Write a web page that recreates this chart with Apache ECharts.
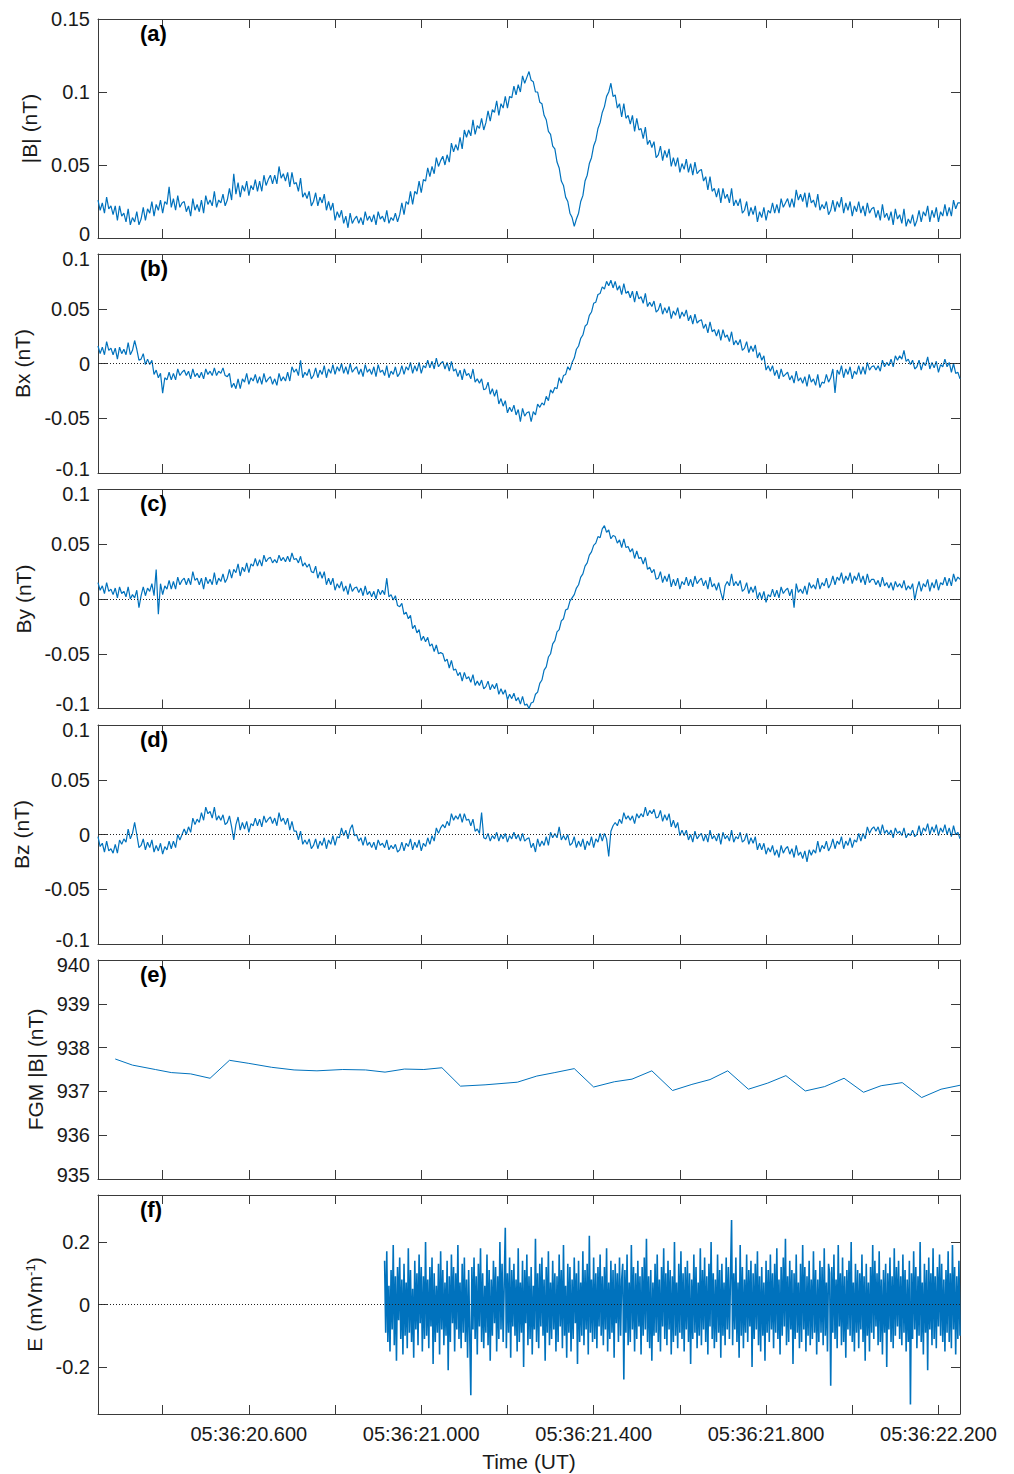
<!DOCTYPE html>
<html>
<head>
<meta charset="utf-8">
<script src="https://cdn.jsdelivr.net/npm/echarts@6.0.0/dist/echarts.min.js"></script>
<style>
html,body{margin:0;padding:0;background:#fff;}
#chart{width:1014px;height:1474px;}
</style>
</head>
<body>
<div id="chart"></div>
<script>
// ---------------- DATA (time in seconds after 05:36:20.000 UT) ----------------
const timeTickValues = [0.4, 0.6, 0.8, 1.0, 1.2, 1.4, 1.6, 1.8, 2.0, 2.2];
const timeLabelValues = [0.6, 1.0, 1.4, 1.8, 2.2];
const timeLabels = ['05:36:20.600', '05:36:21.000', '05:36:21.400', '05:36:21.800', '05:36:22.200'];

const panelLetters = ['(a)', '(b)', '(c)', '(d)', '(e)', '(f)'];
const panelNames = ['|B| (nT)', 'Bx (nT)', 'By (nT)', 'Bz (nT)', 'FGM |B| (nT)', '{b|E (mVm}{s|-1}{b|)}'];

// search-coil field, sampled every 0.005 s from t = 0.25 s (one row = 0.1 s)
const bStart = 0.25, bStep = 0.005;
const absB = [
  0.026,0.019,0.024,0.017,0.028,0.020,0.022,0.016,0.022,0.012,0.022,0.015,0.017,0.011,0.020,0.009,0.014,0.011,0.018,0.009,
  0.013,0.021,0.012,0.020,0.017,0.025,0.015,0.023,0.019,0.026,0.017,0.025,0.023,0.035,0.021,0.027,0.019,0.029,0.021,0.024,
  0.025,0.018,0.022,0.015,0.027,0.019,0.023,0.018,0.026,0.017,0.029,0.023,0.026,0.022,0.032,0.021,0.026,0.024,0.030,0.022,
  0.026,0.034,0.026,0.044,0.030,0.038,0.028,0.036,0.032,0.039,0.029,0.036,0.033,0.040,0.032,0.039,0.032,0.043,0.036,0.040,
  0.043,0.037,0.043,0.037,0.049,0.041,0.044,0.039,0.045,0.035,0.045,0.037,0.038,0.032,0.041,0.028,0.031,0.027,0.032,0.022,
  0.025,0.031,0.022,0.028,0.024,0.030,0.019,0.025,0.019,0.024,0.012,0.018,0.014,0.019,0.010,0.015,0.007,0.017,0.010,0.013,
  0.015,0.010,0.014,0.009,0.018,0.012,0.015,0.011,0.016,0.009,0.018,0.013,0.015,0.011,0.019,0.010,0.014,0.012,0.017,0.011,
  0.016,0.024,0.016,0.025,0.023,0.032,0.023,0.032,0.030,0.039,0.031,0.040,0.039,0.048,0.042,0.049,0.044,0.055,0.049,0.053,
  0.056,0.050,0.057,0.052,0.065,0.059,0.064,0.060,0.069,0.061,0.074,0.069,0.074,0.070,0.081,0.071,0.077,0.075,0.082,0.074,
  0.079,0.087,0.080,0.088,0.086,0.094,0.084,0.092,0.089,0.097,0.089,0.097,0.096,0.104,0.098,0.105,0.100,0.111,0.106,0.110,
  0.114,0.108,0.107,0.100,0.100,0.093,0.092,0.084,0.081,0.073,0.071,0.063,0.061,0.052,0.048,0.039,0.036,0.028,0.025,0.017,
  0.014,0.008,0.013,0.017,0.025,0.029,0.039,0.043,0.051,0.055,0.063,0.067,0.075,0.079,0.086,0.090,0.097,0.100,0.106,0.097,
  0.098,0.089,0.092,0.083,0.092,0.082,0.084,0.078,0.084,0.073,0.082,0.074,0.075,0.068,0.076,0.064,0.067,0.062,0.066,0.055,
  0.057,0.063,0.053,0.060,0.055,0.061,0.049,0.055,0.049,0.055,0.045,0.051,0.047,0.054,0.045,0.051,0.043,0.052,0.044,0.046,
  0.047,0.039,0.042,0.033,0.042,0.032,0.034,0.028,0.034,0.024,0.034,0.027,0.030,0.024,0.034,0.022,0.026,0.022,0.027,0.017,
  0.019,0.025,0.015,0.021,0.016,0.022,0.011,0.018,0.014,0.021,0.012,0.019,0.017,0.024,0.017,0.023,0.017,0.027,0.021,0.024,
  0.027,0.021,0.027,0.021,0.033,0.026,0.030,0.025,0.031,0.021,0.031,0.024,0.026,0.021,0.030,0.019,0.023,0.020,0.025,0.016,
  0.019,0.026,0.018,0.025,0.021,0.028,0.017,0.024,0.019,0.025,0.015,0.022,0.018,0.025,0.017,0.022,0.015,0.024,0.017,0.020,
  0.021,0.014,0.019,0.012,0.023,0.014,0.017,0.012,0.018,0.009,0.020,0.013,0.016,0.010,0.020,0.008,0.013,0.010,0.016,0.008,
  0.012,0.019,0.011,0.018,0.015,0.022,0.011,0.019,0.014,0.021,0.011,0.018,0.015,0.023,0.015,0.021,0.015,0.026,0.020,0.024,
  0.024
];
const bx = [
  0.016,0.009,0.015,0.008,0.020,0.012,0.014,0.008,0.014,0.004,0.015,0.009,0.013,0.008,0.019,0.008,0.012,0.021,0.013,0.003,
  0.004,0.009,-0.001,0.004,-0.001,0.003,-0.010,-0.006,-0.013,-0.009,-0.027,-0.013,-0.015,-0.008,-0.015,-0.009,-0.015,-0.005,-0.011,-0.008,
  -0.006,-0.011,-0.007,-0.014,-0.005,-0.012,-0.009,-0.013,-0.008,-0.014,-0.005,-0.010,-0.007,-0.011,-0.004,-0.011,-0.007,-0.009,-0.004,-0.011,
  -0.012,-0.009,-0.022,-0.018,-0.023,-0.014,-0.023,-0.014,-0.017,-0.009,-0.019,-0.013,-0.016,-0.010,-0.018,-0.012,-0.019,-0.009,-0.017,-0.014,
  -0.012,-0.019,-0.014,-0.020,-0.009,-0.016,-0.012,-0.016,-0.008,-0.016,-0.003,-0.008,-0.005,-0.011,0.003,-0.013,-0.008,-0.011,-0.005,-0.014,
  -0.011,-0.004,-0.013,-0.006,-0.010,-0.002,-0.013,-0.005,-0.009,-0.001,-0.010,-0.003,-0.007,0.000,-0.009,-0.003,-0.010,0.000,-0.008,-0.005,
  -0.003,-0.010,-0.005,-0.012,-0.001,-0.008,-0.005,-0.010,-0.003,-0.012,-0.001,-0.008,-0.006,-0.011,-0.002,-0.013,-0.007,-0.010,-0.003,-0.012,
  -0.009,-0.002,-0.010,-0.003,-0.006,0.001,-0.009,-0.002,-0.007,0.001,-0.009,-0.002,-0.004,0.003,-0.004,0.002,-0.005,0.005,-0.003,0.000,
  0.002,-0.005,0.001,-0.007,0.002,-0.007,-0.005,-0.012,-0.006,-0.015,-0.005,-0.011,-0.009,-0.014,-0.005,-0.017,-0.014,-0.018,-0.014,-0.024,
  -0.023,-0.017,-0.028,-0.023,-0.030,-0.024,-0.037,-0.032,-0.039,-0.034,-0.045,-0.040,-0.044,-0.038,-0.047,-0.042,-0.053,-0.041,-0.048,-0.045,
  -0.044,-0.053,-0.044,-0.047,-0.037,-0.040,-0.036,-0.038,-0.030,-0.034,-0.024,-0.027,-0.022,-0.023,-0.013,-0.018,-0.011,-0.010,-0.003,-0.006,
  0.001,0.005,0.013,0.016,0.023,0.026,0.034,0.036,0.044,0.047,0.055,0.056,0.063,0.064,0.070,0.068,0.075,0.071,0.076,0.069,
  0.075,0.067,0.071,0.063,0.073,0.064,0.066,0.060,0.066,0.056,0.066,0.059,0.061,0.055,0.064,0.052,0.056,0.052,0.057,0.047,
  0.049,0.055,0.045,0.051,0.046,0.052,0.041,0.048,0.044,0.051,0.041,0.047,0.043,0.049,0.039,0.044,0.036,0.045,0.037,0.039,
  0.040,0.032,0.036,0.028,0.038,0.029,0.031,0.025,0.031,0.021,0.031,0.024,0.026,0.020,0.029,0.017,0.021,0.017,0.022,0.012,
  0.014,0.020,0.010,0.016,0.011,0.017,0.005,0.010,0.003,0.007,-0.006,-0.002,-0.007,-0.002,-0.011,-0.006,-0.014,-0.005,-0.012,-0.010,
  -0.008,-0.015,-0.011,-0.018,-0.007,-0.016,-0.013,-0.018,-0.012,-0.021,-0.010,-0.017,-0.014,-0.020,-0.010,-0.022,-0.017,-0.018,-0.010,-0.017,
  -0.013,-0.005,-0.027,-0.006,-0.010,-0.002,-0.013,-0.005,-0.010,-0.003,-0.014,-0.007,-0.010,-0.002,-0.010,-0.003,-0.010,0.001,-0.006,-0.003,
  -0.002,-0.006,-0.002,-0.007,0.003,-0.003,0.001,-0.002,0.004,-0.003,0.007,0.003,0.007,0.004,0.012,0.002,0.004,-0.001,0.003,-0.005,
  -0.003,0.003,-0.006,0.001,-0.002,0.006,-0.005,0.001,-0.004,0.002,-0.008,-0.001,-0.003,0.004,-0.003,0.001,-0.008,0.000,-0.009,-0.008,
  -0.014
];
const by = [
  0.015,0.008,0.012,0.005,0.015,0.007,0.009,0.004,0.010,0.001,0.011,0.005,0.007,0.002,0.011,0.000,0.004,0.001,0.008,-0.008,
  0.003,0.011,0.003,0.010,0.007,0.014,0.003,0.027,-0.014,0.014,0.004,0.012,0.009,0.017,0.009,0.016,0.009,0.020,0.013,0.017,
  0.019,0.013,0.019,0.013,0.025,0.017,0.019,0.013,0.019,0.009,0.020,0.014,0.018,0.013,0.024,0.013,0.019,0.016,0.023,0.015,
  0.019,0.027,0.019,0.027,0.024,0.032,0.021,0.029,0.025,0.033,0.024,0.032,0.030,0.037,0.030,0.036,0.030,0.040,0.034,0.037,
  0.038,0.033,0.036,0.033,0.040,0.035,0.038,0.034,0.039,0.034,0.042,0.036,0.037,0.033,0.039,0.030,0.033,0.029,0.032,0.025,
  0.024,0.030,0.019,0.025,0.019,0.025,0.013,0.019,0.013,0.019,0.008,0.014,0.010,0.016,0.007,0.012,0.004,0.014,0.007,0.010,
  0.011,0.006,0.010,0.003,0.012,0.004,0.007,0.002,0.007,0.000,0.009,0.004,0.008,0.004,0.019,0.002,0.004,-0.001,0.003,-0.006,
  -0.007,-0.004,-0.014,-0.012,-0.018,-0.015,-0.027,-0.024,-0.031,-0.028,-0.038,-0.034,-0.039,-0.035,-0.043,-0.041,-0.048,-0.042,-0.050,-0.049,
  -0.050,-0.057,-0.055,-0.063,-0.056,-0.065,-0.064,-0.070,-0.067,-0.075,-0.067,-0.073,-0.071,-0.076,-0.069,-0.079,-0.075,-0.079,-0.074,-0.082,
  -0.080,-0.075,-0.083,-0.078,-0.082,-0.077,-0.087,-0.082,-0.087,-0.083,-0.092,-0.087,-0.091,-0.086,-0.093,-0.090,-0.096,-0.089,-0.097,-0.096,
  -0.100,-0.095,-0.094,-0.087,-0.085,-0.077,-0.074,-0.065,-0.062,-0.053,-0.050,-0.041,-0.038,-0.030,-0.028,-0.020,-0.018,-0.010,-0.009,-0.002,
  0.001,0.004,0.010,0.013,0.020,0.023,0.030,0.033,0.040,0.043,0.049,0.051,0.057,0.056,0.064,0.067,0.061,0.063,0.055,0.058,
  0.057,0.051,0.054,0.047,0.055,0.047,0.048,0.043,0.046,0.037,0.044,0.037,0.038,0.032,0.038,0.027,0.029,0.024,0.027,0.018,
  0.019,0.025,0.015,0.021,0.016,0.023,0.011,0.018,0.012,0.019,0.009,0.016,0.013,0.020,0.012,0.018,0.011,0.021,0.014,0.017,
  0.019,0.012,0.017,0.009,0.020,0.011,0.014,0.008,0.015,0.006,-0.001,0.012,0.016,0.012,0.023,0.012,0.016,0.012,0.017,0.007,
  0.009,0.015,0.005,0.011,0.006,0.012,0.000,0.006,0.000,0.007,-0.003,0.004,0.002,0.009,0.002,0.008,0.001,0.011,0.005,0.008,
  0.010,0.003,0.009,-0.008,0.014,0.006,0.009,0.005,0.012,0.004,0.015,0.010,0.013,0.009,0.019,0.009,0.015,0.012,0.019,0.010,
  0.014,0.021,0.013,0.020,0.017,0.024,0.014,0.021,0.017,0.024,0.014,0.021,0.017,0.024,0.015,0.021,0.013,0.023,0.015,0.018,
  0.018,0.013,0.017,0.011,0.020,0.012,0.015,0.010,0.015,0.008,0.016,0.011,0.014,0.010,0.017,0.008,0.012,0.009,0.014,-0.001,
  0.009,0.016,0.007,0.014,0.011,0.018,0.007,0.015,0.010,0.018,0.008,0.015,0.013,0.020,0.012,0.019,0.012,0.023,0.016,0.020,
  0.018
];
const bz = [
  -0.002,-0.011,-0.008,-0.016,-0.006,-0.015,-0.013,-0.017,-0.009,-0.017,-0.005,-0.009,-0.004,-0.007,0.005,-0.004,0.001,0.011,0.000,-0.012,
  -0.010,-0.004,-0.014,-0.007,-0.012,-0.005,-0.016,-0.010,-0.015,-0.008,-0.018,-0.011,-0.014,-0.006,-0.013,-0.006,-0.012,0.000,-0.005,0.000,
  0.005,0.000,0.007,0.002,0.015,0.009,0.014,0.011,0.020,0.013,0.025,0.019,0.021,0.015,0.025,0.013,0.017,0.013,0.018,0.009,
  0.011,0.017,0.007,-0.005,0.009,0.016,0.004,0.011,0.005,0.012,0.002,0.010,0.008,0.015,0.008,0.014,0.007,0.017,0.011,0.014,
  0.016,0.010,0.015,0.008,0.020,0.012,0.015,0.009,0.015,0.004,0.012,0.003,0.003,-0.005,0.003,-0.009,-0.005,-0.009,-0.004,-0.013,
  -0.010,-0.004,-0.013,-0.006,-0.010,-0.003,-0.013,-0.005,-0.009,-0.001,-0.010,-0.002,-0.003,0.006,-0.001,0.004,-0.004,0.005,0.009,-0.001,
  0.000,-0.006,-0.003,-0.010,-0.002,-0.010,-0.007,-0.012,-0.007,-0.014,-0.005,-0.010,-0.008,-0.012,-0.005,-0.014,-0.010,-0.013,-0.009,-0.016,
  -0.014,-0.007,-0.015,-0.008,-0.011,-0.004,-0.014,-0.007,-0.012,-0.005,-0.015,-0.008,-0.011,-0.003,-0.009,-0.001,-0.006,0.006,0.001,0.006,
  0.009,0.006,0.012,0.008,0.019,0.013,0.017,0.014,0.019,0.011,0.019,0.013,0.014,0.008,0.014,0.003,0.005,0.001,0.020,-0.003,
  -0.004,0.001,-0.006,-0.001,-0.004,0.002,-0.006,0.000,-0.004,0.001,-0.007,-0.001,-0.004,0.002,-0.004,0.000,-0.006,0.001,-0.006,-0.004,
  -0.003,-0.012,-0.008,-0.016,-0.004,-0.011,-0.006,-0.010,-0.002,-0.010,0.002,-0.003,0.001,-0.003,0.007,-0.005,-0.001,-0.005,0.000,-0.010,
  -0.008,-0.002,-0.012,-0.006,-0.011,-0.004,-0.014,-0.006,-0.010,-0.002,-0.012,-0.004,-0.007,0.001,-0.006,0.001,-0.004,-0.020,0.003,0.008,
  0.011,0.008,0.014,0.010,0.020,0.014,0.017,0.013,0.017,0.010,0.019,0.015,0.019,0.016,0.025,0.017,0.022,0.019,0.023,0.015,
  0.016,0.022,0.012,0.018,0.013,0.019,0.007,0.013,0.006,0.011,-0.001,0.004,-0.001,0.004,-0.005,0.000,-0.007,0.003,-0.004,-0.001,
  0.001,-0.006,0.000,-0.007,0.004,-0.004,-0.001,-0.006,0.001,-0.009,0.002,-0.004,-0.001,-0.006,0.004,-0.007,-0.002,-0.004,0.002,-0.007,
  -0.005,0.001,-0.009,-0.003,-0.008,-0.002,-0.014,-0.008,-0.014,-0.008,-0.018,-0.012,-0.016,-0.010,-0.019,-0.014,-0.021,-0.010,-0.017,-0.013,
  -0.011,-0.018,-0.013,-0.021,-0.010,-0.019,-0.016,-0.022,-0.015,-0.025,-0.014,-0.019,-0.014,-0.017,-0.006,-0.016,-0.010,-0.013,-0.006,-0.015,
  -0.011,-0.004,-0.013,-0.006,-0.009,-0.002,-0.013,-0.006,-0.010,-0.003,-0.012,-0.005,-0.007,0.001,-0.006,0.001,-0.004,0.007,0.001,0.005,
  0.007,0.003,0.007,0.000,0.009,0.001,0.004,0.000,0.004,-0.003,0.006,0.001,0.003,-0.001,0.006,-0.003,0.001,-0.001,0.004,-0.002,
  0.000,0.008,-0.001,0.006,0.003,0.010,0.000,0.007,0.002,0.009,-0.001,0.006,0.002,0.009,0.000,0.006,-0.002,0.008,0.000,0.002,
  -0.004
];

// fluxgate magnitude samples
const fgmTime = [0.290,0.330,0.383,0.420,0.465,0.510,0.555,0.600,0.653,0.705,0.758,0.818,0.871,0.916,0.961,1.006,1.048,1.091,1.148,1.223,1.268,1.310,1.355,1.400,1.448,1.489,1.535,1.583,1.628,1.670,1.711,1.759,1.804,1.846,1.891,1.936,1.981,2.026,2.067,2.116,2.161,2.206,2.250];
const fgmB = [937.74,937.60,937.50,937.43,937.40,937.30,937.71,937.64,937.55,937.49,937.47,937.50,937.49,937.44,937.51,937.50,937.54,937.12,937.15,937.21,937.35,937.43,937.52,937.10,937.22,937.28,937.47,937.02,937.16,937.27,937.47,937.05,937.19,937.36,937.01,937.11,937.30,936.98,937.13,937.20,936.86,937.05,937.14];

// electric field, sampled every 0.0025 s from t = 0.915 s (one row = 0.1 s)
const eStart = 0.915, eStep = 0.0025;
const eField = [
  0.14,-0.09,0.17,-0.12,0.06,-0.15,0.11,-0.08,0.19,-0.13,0.09,-0.18,0.12,-0.05,0.15,-0.11,0.08,-0.16,0.13,-0.10,0.07,-0.14,0.18,-0.09,0.11,-0.12,0.05,-0.17,0.14,-0.08,0.10,-0.13,0.16,-0.06,0.12,-0.15,0.09,-0.11,0.20,-0.10,
  0.08,-0.14,0.12,-0.07,0.15,-0.19,0.10,-0.12,0.06,-0.09,0.13,-0.16,0.17,-0.08,0.11,-0.13,0.07,-0.10,0.14,-0.21,0.09,-0.12,0.16,-0.06,0.12,-0.15,0.10,-0.08,0.19,-0.11,0.07,-0.14,0.13,-0.09,0.15,-0.12,0.08,-0.17,0.11,-0.10,
  -0.29,0.12,-0.08,0.15,-0.11,0.09,-0.16,0.13,-0.07,0.18,-0.12,0.10,-0.14,0.06,-0.09,0.16,-0.13,0.11,-0.18,0.08,-0.10,0.14,-0.06,0.12,-0.15,0.09,-0.11,0.20,-0.08,0.13,-0.12,0.07,0.245,-0.14,0.10,-0.09,0.15,-0.17,0.11,-0.07,
  0.13,-0.10,0.08,-0.15,0.18,-0.12,0.07,-0.09,0.14,-0.20,0.11,-0.06,0.16,-0.13,0.09,-0.11,0.12,-0.16,0.06,-0.08,0.21,-0.12,0.10,-0.14,0.13,-0.07,0.15,-0.10,0.08,-0.18,0.12,-0.09,0.17,-0.13,0.07,-0.11,0.14,-0.08,0.10,-0.15,
  0.09,-0.12,0.16,-0.07,0.11,-0.14,0.19,-0.10,0.06,-0.17,0.13,-0.09,0.12,-0.15,0.08,-0.11,0.15,-0.06,0.10,-0.19,0.14,-0.12,0.07,-0.10,0.17,-0.13,0.11,-0.08,0.13,-0.16,0.22,-0.09,0.08,-0.12,0.15,-0.11,0.10,-0.14,0.12,-0.07,
  0.16,-0.10,0.09,-0.13,0.12,-0.08,0.18,-0.15,0.07,-0.11,0.14,-0.09,0.11,-0.17,0.13,-0.06,0.10,-0.12,0.15,-0.10,0.08,0.13,-0.24,0.11,-0.09,0.16,-0.13,0.07,-0.12,0.19,-0.08,0.12,-0.15,0.10,-0.11,0.14,-0.07,0.09,-0.16,0.12,
  -0.10,0.15,-0.08,0.21,-0.12,0.09,-0.14,0.11,-0.18,0.07,-0.10,0.13,-0.09,0.16,-0.12,0.08,-0.15,0.12,-0.07,0.18,-0.11,0.10,-0.13,0.14,-0.08,0.11,-0.16,0.09,-0.12,0.20,-0.10,0.07,-0.14,0.13,-0.09,0.17,-0.11,0.10,-0.15,0.12,
  -0.08,0.14,-0.12,0.10,-0.19,0.08,-0.11,0.16,-0.09,0.12,-0.14,0.07,-0.10,0.18,-0.13,0.11,-0.08,0.15,-0.12,0.09,-0.16,0.13,-0.07,0.20,-0.11,0.10,-0.14,0.08,-0.12,0.16,-0.09,0.11,-0.17,0.13,-0.10,0.07,-0.13,0.15,-0.08,0.12,
  -0.11,0.09,0.27,-0.13,0.10,-0.08,0.15,-0.12,0.07,-0.17,0.19,-0.10,0.12,-0.14,0.08,-0.09,0.16,-0.12,0.11,-0.07,0.14,-0.20,0.10,-0.11,0.13,-0.08,0.17,-0.13,0.09,-0.15,0.12,-0.10,0.07,-0.18,0.14,-0.09,0.11,-0.12,0.16,-0.08,
  0.10,-0.14,0.13,-0.09,0.18,-0.11,0.08,-0.16,0.12,-0.10,0.15,-0.07,0.21,-0.13,0.09,-0.12,0.14,-0.08,0.11,-0.19,0.10,-0.11,0.16,-0.09,0.07,-0.14,0.13,-0.12,0.19,-0.08,0.12,-0.15,0.09,-0.10,0.14,-0.13,0.08,-0.11,0.17,-0.09,
  0.11,-0.16,0.08,-0.12,0.14,-0.09,0.12,-0.13,0.18,-0.10,0.07,-0.15,0.13,0.10,-0.26,0.12,-0.09,0.16,-0.11,0.08,-0.14,0.19,-0.07,0.10,-0.13,0.15,-0.12,0.09,-0.17,0.11,-0.08,0.14,-0.10,0.20,-0.12,0.07,-0.15,0.13,-0.09,0.11,
  -0.14,0.10,-0.08,0.16,-0.12,0.09,-0.18,0.13,-0.10,0.07,-0.15,0.12,-0.09,0.19,-0.11,0.14,-0.07,0.10,-0.13,0.17,-0.12,0.08,-0.16,0.11,-0.09,0.13,-0.20,0.10,-0.08,0.15,-0.12,0.09,-0.14,0.18,-0.10,0.12,-0.07,0.14,-0.11,0.09,
  -0.13,0.16,-0.09,0.11,-0.15,0.08,-0.12,0.14,-0.32,0.10,-0.11,0.17,-0.08,0.12,-0.14,0.09,-0.10,0.20,-0.12,0.07,-0.16,0.13,-0.09,0.11,-0.21,0.15,-0.08,0.10,-0.13,0.18,-0.11,0.09,-0.14,0.12,-0.07,0.16,-0.10,0.13,-0.12,0.08,
  -0.15,0.11,-0.09,0.17,-0.12,0.10,-0.14,0.19,-0.08,0.12,-0.16,0.09,-0.11,0.14,-0.10
];

// y-axis ranges [min, max, interval]
const yRanges = [[0, 0.15, 0.05], [-0.1, 0.1, 0.05], [-0.1, 0.1, 0.05], [-0.1, 0.1, 0.05], [935, 940, 1], [-0.35, 0.35, null]];
const eTickValues = [-0.2, 0, 0.2];

// ---------------- LAYOUT / STYLE ----------------
const FONT = '"Liberation Sans", Arial, Helvetica, sans-serif';
const AXIS = '#3a3a3a';
const TXT = '#1a1a1a';
const LINE = '#0072BD';
const gridTops = [19, 254, 489.5, 725, 960, 1195];
const gridH = 219;
const nameGaps = [50, 65, 63, 66, 50, 52];
const zeroLine = [false, true, true, true, false, true];
const lineWidths = [1.2, 1.2, 1.2, 1.2, 1, 1.6];

function sampled(start, step, vals) {
  return vals.map((v, i) => [Math.round((start + i * step) * 100000) / 100000, v]);
}
function paired(ts, vs) { return ts.map((t, i) => [t, vs[i]]); }
function fmtNum(v) { return String(+(+v).toFixed(4)); }

const seriesData = [
  sampled(bStart, bStep, absB),
  sampled(bStart, bStep, bx),
  sampled(bStart, bStep, by),
  sampled(bStart, bStep, bz),
  paired(fgmTime, fgmB),
  sampled(eStart, eStep, eField)
];

const grids = [], xAxes = [], yAxes = [], series = [], titles = [];
gridTops.forEach((top, i) => {
  grids.push({ left: 98, right: 54, top: top, height: gridH, containLabel: false });
  const last = i === 5;
  const tickCommon = { show: true, inside: true, length: 9, customValues: timeTickValues, lineStyle: { color: AXIS, width: 1 } };
  xAxes.push({
    type: 'value', gridIndex: i, position: 'bottom', min: 0.25, max: 2.25,
    axisLine: { show: true, onZero: false, lineStyle: { color: AXIS, width: 1 } },
    axisTick: tickCommon,
    axisLabel: {
      show: last, customValues: timeLabelValues, margin: 10,
      fontSize: 20, fontFamily: FONT, color: TXT,
      formatter: v => { const k = timeLabelValues.findIndex(x => Math.abs(x - v) < 1e-6); return k >= 0 ? timeLabels[k] : ''; }
    },
    splitLine: { show: false },
    name: last ? 'Time (UT)' : '', nameLocation: 'middle', nameGap: 37,
    nameTextStyle: { fontSize: 21, fontFamily: FONT, color: TXT }
  });
  xAxes.push({
    type: 'value', gridIndex: i, position: 'top', min: 0.25, max: 2.25,
    axisLine: { show: true, onZero: false, lineStyle: { color: AXIS, width: 1 } },
    axisTick: tickCommon, axisLabel: { show: false }, splitLine: { show: false }
  });
  const [ymin, ymax, yint] = yRanges[i];
  const yTick = { show: true, inside: true, length: 9, lineStyle: { color: AXIS, width: 1 } };
  const yLab = {
    show: true, margin: 8, fontSize: 20, fontFamily: FONT, color: TXT,
    formatter: v => {
      const s = fmtNum(v);
      if (i < 5 && Math.abs(v - ymin) < 1e-9) return '{lo|' + s + '}';
      if (i > 0 && Math.abs(v - ymax) < 1e-9) return '{hi|' + s + '}';
      return s;
    },
    rich: {
      lo: { fontSize: 20, fontFamily: FONT, color: TXT, padding: [0, 0, 9, 0] },
      hi: { fontSize: 20, fontFamily: FONT, color: TXT, padding: [9, 0, 0, 0] }
    }
  };
  if (yint === null) { yTick.customValues = eTickValues; yLab.customValues = eTickValues; }
  const yBase = { type: 'value', gridIndex: i, min: ymin, max: ymax, splitLine: { show: false },
    axisLine: { show: true, onZero: false, lineStyle: { color: AXIS, width: 1 } } };
  if (yint !== null) yBase.interval = yint;
  yAxes.push(Object.assign({}, yBase, {
    position: 'left', axisTick: yTick, axisLabel: yLab,
    name: panelNames[i], nameLocation: 'middle', nameGap: nameGaps[i],
    nameTextStyle: {
      fontSize: 21, fontFamily: FONT, color: TXT,
      rich: {
        b: { fontSize: 21, fontFamily: FONT, color: TXT },
        s: { fontSize: 13, fontFamily: FONT, color: TXT, verticalAlign: 'top', padding: [0, 0, 8, 0] }
      }
    }
  }));
  yAxes.push(Object.assign({}, yBase, {
    position: 'right', axisTick: Object.assign({}, yTick), axisLabel: { show: false }
  }));
  const s = {
    type: 'line', xAxisIndex: 2 * i, yAxisIndex: 2 * i, data: seriesData[i],
    showSymbol: false, symbol: 'none', silent: true, animation: false,
    lineStyle: { color: LINE, width: lineWidths[i] }, itemStyle: { color: LINE }, clip: true
  };
  if (zeroLine[i]) {
    s.markLine = { silent: true, symbol: 'none', animation: false, label: { show: false },
      lineStyle: { type: [1, 2], color: '#222', width: 1 }, data: [{ yAxis: 0 }] };
  }
  series.push(s);
  titles.push({ text: panelLetters[i], left: 140, top: top + 3, padding: 0,
    textStyle: { fontSize: 22, fontWeight: 'bold', fontFamily: FONT, color: '#000' } });
});

const chart = echarts.init(document.getElementById('chart'), null, { renderer: 'svg', width: 1014, height: 1474 });
chart.setOption({
  animation: false,
  backgroundColor: '#ffffff',
  textStyle: { fontFamily: FONT },
  title: titles,
  grid: grids,
  xAxis: xAxes,
  yAxis: yAxes,
  series: series
});
</script>
</body>
</html>
